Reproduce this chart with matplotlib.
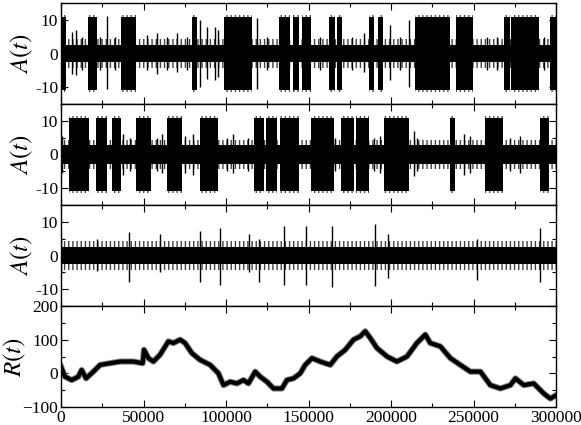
import numpy as np
import matplotlib
matplotlib.use("Agg")
import matplotlib.pyplot as plt
from matplotlib.ticker import MultipleLocator

plt.rcParams['font.family'] = ['Liberation Serif', 'DejaVu Serif']
plt.rcParams['mathtext.fontset'] = 'stix'
plt.rcParams['hatch.linewidth'] = 1.0

T_MAX = 300000

# burst intervals (start, end) where A(t) swings to about +-11
bursts_1 = [(0, 2800), (16200, 22000), (36400, 45500), (79300, 82300),
            (98900, 116000), (132000, 138900), (140900, 144000),
            (146000, 151500), (162600, 166000), (167500, 170300),
            (186400, 189500), (191900, 195100), (214300, 236000),
            (239400, 249500), (268300, 272400), (273000, 289500),
            (296600, 300000)]
bursts_2 = [(5000, 17200), (21200, 28100), (30700, 36200), (45500, 54400),
            (64100, 73200), (84300, 95200), (116700, 123000),
            (124500, 130800), (132800, 144000), (151500, 165200),
            (169700, 177500), (179000, 186800), (195900, 211100),
            (236000, 239000), (257200, 267700), (290600, 296000)]
bursts_3 = []

# quiet-part amplitude of each series (core, outer hair)
quiet_1 = (2.6, 4.2)
quiet_2 = (2.7, 4.4)
quiet_3 = (2.6, 4.3)

# isolated spikes: time, upper, lower
spike_t_1 = [6500, 9100, 12500, 23700, 27700, 32800, 52000, 58000, 64100,
             70200, 76200, 84300, 88400, 93400, 95400, 118700, 124800,
             157100, 176300, 183400, 199600, 205600, 211100, 258200,
             264300, 292600]
spike_up_1 = [6.5, 7, 5, 5, 11, 5, 5.5, 6, 5, 6, 5, 10, 8, 8, 7, 10.5, 5,
              5, 5, 6, 8.5, 5, 10, 5, 5, 5]
spike_dn_1 = [6, 6.5, 5, 5, 10.5, 5, 5, 6, 5, 5.5, 5, 10, 7.5, 8, 7, 10.5,
              5, 5, 5, 5.5, 8, 5, 10, 5, 5, 5]

spike_t_2 = [400, 37800, 41900, 58000, 61100, 75200, 80300, 100500, 104500,
             113600, 166200, 189500, 193500, 213700, 215800, 244000, 248100,
             272400, 278400]
spike_up_2 = [5.5, 6, 5, 5, 6, 5.5, 6, 5, 6, 5, 5, 5, 5.5, 7, 5, 6, 5.5, 5,
              5.5]
spike_dn_2 = [5.5, 6, 5, 5, 5.5, 5.5, 6, 5, 5.5, 5, 5, 5, 5.5, 6.5, 5, 6,
              5.5, 5, 5.5]

spike_t_3 = [0, 21600, 41400, 60000, 84300, 96400, 114200, 119700, 134900,
             148600, 164200, 190500, 197900, 252100, 290600]
spike_up_3 = [5.4, 5, 7, 6.5, 7.3, 8.3, 6.4, 5, 8.8, 8.8, 8.8, 9.5, 6.4, 5,
              8.3]
spike_dn_3 = [5.5, 4.5, 7.8, 5, 8, 8.8, 5, 8, 8.8, 8.8, 9.3, 9, 6.7, 7.3,
              7.8]

# R(t)
r_t = [0, 2400, 6500, 10500, 12500, 15200, 19600, 23700, 29700, 35800,
       43900, 49500, 50300, 53000, 56000, 60000, 65100, 68100, 72200, 75200,
       79300, 84300, 90400, 95400, 98500, 102500, 106600, 110600, 113600,
       117700, 120700, 124800, 128800, 133900, 136900, 140900, 145000,
       148000, 152100, 157100, 163200, 167200, 172300, 177300, 181400,
       184400, 187400, 191500, 197600, 203600, 209700, 215700, 220800,
       223800, 229900, 236000, 242000, 248100, 254200, 260200, 266300,
       272400, 275400, 280500, 286500, 292600, 296600, 300000]
r_val = [20, -10, -20, -10, 10, -15, 5, 25, 30, 35, 35, 30, 70, 45, 35, 55,
         95, 90, 100, 90, 60, 40, 25, 0, -35, -25, -30, -20, -30, 5, -10,
         -25, -45, -45, -20, -15, 0, 25, 45, 35, 25, 50, 70, 100, 110, 125,
         105, 75, 50, 35, 50, 90, 115, 90, 80, 45, 25, 5, 5, -35, -45, -35,
         -15, -35, -30, -60, -75, -65]


def style_axis(ax, ymaj, ymin):
    ax.set_xlim(0, T_MAX)
    ax.xaxis.set_major_locator(MultipleLocator(50000))
    ax.xaxis.set_minor_locator(MultipleLocator(25000))
    ax.yaxis.set_major_locator(MultipleLocator(ymaj))
    ax.yaxis.set_minor_locator(MultipleLocator(ymin))
    ax.tick_params(which="both", direction="in", top=True, right=True,
                   labelsize=12.5, pad=2)
    ax.tick_params(which="major", length=5, width=0.8)
    ax.tick_params(which="minor", length=3, width=0.8)
    for s in ax.spines.values():
        s.set_linewidth(1.0)


def draw_signal(ax, bursts, quiet, st, su, sd):
    core, hair = quiet
    # hairy fringe of the noise band, then the solid core
    ax.fill_between([0, T_MAX], -hair, hair, facecolor="none",
                    edgecolor="0.25", hatch="||||", lw=0)
    ax.fill_between([0, T_MAX], -core, core, color="black", lw=0)
    for s, e in bursts:
        ax.fill_between([s, e], -11.5, 11.5, facecolor="none",
                        edgecolor="0.3", hatch="||||", lw=0)
        ax.fill_between([s, e], -10.8, 10.8, color="black", lw=0)
    ax.vlines(st, [-d for d in sd], su, color="black", lw=1.0)
    ax.set_ylim(-15, 15)
    style_axis(ax, 10, 5)
    ax.set_yticks([-10, 0, 10])
    ax.set_yticklabels(["-10", "0", "10"])
    ax.set_ylabel(r"$A(t)$", fontsize=18, labelpad=0)


fig = plt.figure(figsize=(5.81, 4.25), dpi=100)
h = 101 / 425
bottoms = [(425 - 407 + 3 * 101) / 425, (425 - 407 + 2 * 101) / 425,
           (425 - 407 + 101) / 425, (425 - 407) / 425]
axes = [fig.add_axes([61 / 581, b, 495 / 581, h]) for b in bottoms]

draw_signal(axes[0], bursts_1, quiet_1, spike_t_1, spike_up_1, spike_dn_1)
draw_signal(axes[1], bursts_2, quiet_2, spike_t_2, spike_up_2, spike_dn_2)
draw_signal(axes[2], bursts_3, quiet_3, spike_t_3, spike_up_3, spike_dn_3)
for ax in axes[:3]:
    ax.tick_params(labelbottom=False)

ax = axes[3]
ax.plot(r_t, r_val, color="0.5", lw=4.4)
ax.plot(r_t, r_val, color="black", lw=3.0)
ax.set_ylim(-100, 200)
style_axis(ax, 100, 50)
ax.set_ylabel(r"$R(t)$", fontsize=18, labelpad=-4)

fig.savefig("out.png", dpi=100)
